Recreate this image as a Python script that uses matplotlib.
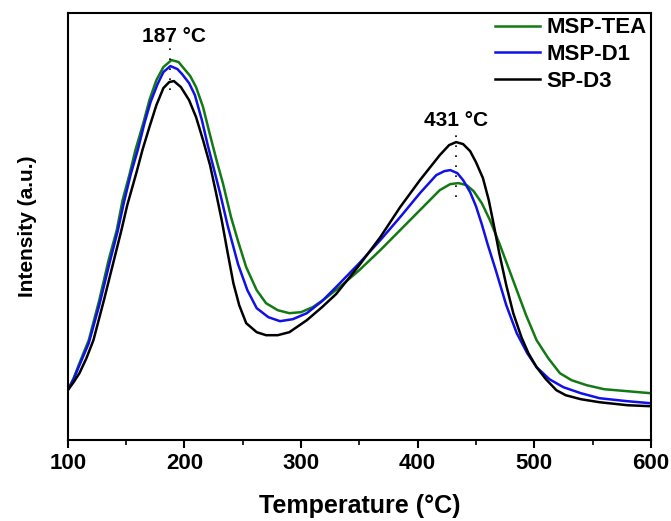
import matplotlib.pyplot as plt
import numpy as np

# TPD profiles (intensity in arbitrary units)
temp_tea = [100, 105, 110, 118, 127, 135, 142, 147, 153, 158, 165, 170, 176, 182, 189, 195,
            200, 205, 210, 216, 222, 228, 233, 240, 246, 253, 262, 270, 280, 290, 300, 310,
            320, 333, 350, 368, 385, 402, 419, 428, 435, 442, 448, 455, 462, 470, 478, 485,
            493, 502, 512, 522, 532, 545, 560, 580, 600]
int_tea = [50, 62, 77, 100, 140, 180, 210, 240, 266, 290, 318, 340, 360, 373, 380, 378,
           371, 364, 353, 333, 305, 278, 257, 223, 199, 173, 150, 137, 130, 127, 128, 133,
           141, 153, 170, 190, 210, 230, 250, 256, 257, 255, 249, 237, 220, 197, 172, 150,
           125, 100, 82, 67, 60, 55, 51, 49, 47]

temp_d1 = [100, 105, 110, 118, 127, 136, 143, 148, 154, 160, 166, 171, 177, 182, 188, 194,
           198, 204, 209, 215, 220, 226, 231, 237, 246, 254, 262, 272, 282, 293, 305, 318,
           330, 350, 368, 385, 402, 416, 423, 428, 434, 439, 445, 450, 455, 460, 467, 476,
           485, 494, 502, 513, 525, 540, 556, 580, 600]
int_d1 = [50, 61, 75, 97, 135, 178, 210, 237, 266, 290, 318, 338, 356, 368, 374, 371,
          366, 357, 345, 320, 295, 268, 245, 215, 176, 150, 132, 123, 119, 121, 127, 139,
          153, 177, 200, 223, 247, 265, 269, 270, 267, 260, 248, 234, 216, 196, 170, 135,
          107, 87, 73, 61, 53, 47, 42, 39, 37]

temp_d3 = [100, 105, 110, 116, 122, 131, 140, 146, 151, 159, 164, 170, 176, 182, 187, 191,
           197, 204, 210, 216, 222, 227, 232, 237, 242, 247, 253, 262, 270, 280, 290, 305,
           318, 330, 350, 368, 385, 402, 419, 427, 433, 439, 445, 450, 456, 461, 465, 470,
           476, 482, 489, 495, 502, 510, 519, 527, 540, 556, 580, 600]
int_d3 = [50, 58, 67, 82, 100, 140, 182, 210, 235, 268, 290, 313, 335, 352, 358, 359,
          353, 340, 323, 300, 275, 248, 220, 188, 157, 135, 117, 108, 105, 105, 108, 120,
          133, 146, 175, 203, 233, 260, 285, 295, 298, 296, 289, 278, 262, 240, 217, 187,
          155, 127, 103, 87, 73, 61, 50, 45, 41, 38, 35, 34]

labels = ['MSP-TEA', 'MSP-D1', 'SP-D3']
colors = ['#137a13', '#1010e8', 'black']

plt.rcParams['font.family'] = ['Liberation Sans', 'DejaVu Sans']
plt.rcParams['font.weight'] = 'bold'
plt.rcParams['font.size'] = 16

fig = plt.figure(figsize=(6.71, 5.21), dpi=100)
ax = fig.add_axes([0.101, 0.155, 0.869, 0.82])

series = [(temp_tea, int_tea), (temp_d1, int_d1), (temp_d3, int_d3)]
for (t, y), lab, c in zip(series, labels, colors):
    ax.plot(t, y, color=c, lw=1.8, label=lab)

# peak markers
ax.plot([188, 188], [350, 392], color='black', ls=(0, (1, 5)), lw=1.2)
ax.plot([433, 433], [243, 310], color='black', ls=(0, (1, 5)), lw=1.2)
ax.text(191, 404, '187 °C', ha='center', va='center', fontsize=15, fontweight='bold')
ax.text(433, 320, '431 °C', ha='center', va='center', fontsize=15, fontweight='bold')

ax.set_xlim(100, 600)
ax.set_ylim(0, 427)
ax.set_xticks(np.arange(100, 601, 100))
ax.set_xticks(np.arange(150, 600, 100), minor=True)
ax.set_yticks([])
ax.tick_params(axis='x', which='major', direction='out', length=6, width=1.5, labelsize=16)
ax.tick_params(axis='x', which='minor', direction='out', length=3.5, width=1.2)
for s in ax.spines.values():
    s.set_linewidth(1.5)

ax.set_xlabel('Temperature (°C)', fontsize=18, fontweight='bold', labelpad=14)
ax.set_ylabel('Intensity (a.u.)', fontsize=15, fontweight='bold', labelpad=22)

ax.legend(loc='upper right', frameon=False, fontsize=16, handlelength=2.0,
          handletextpad=0.3, labelspacing=0.25, borderpad=0.1, borderaxespad=0.1)

fig.savefig('out.png', dpi=100)
